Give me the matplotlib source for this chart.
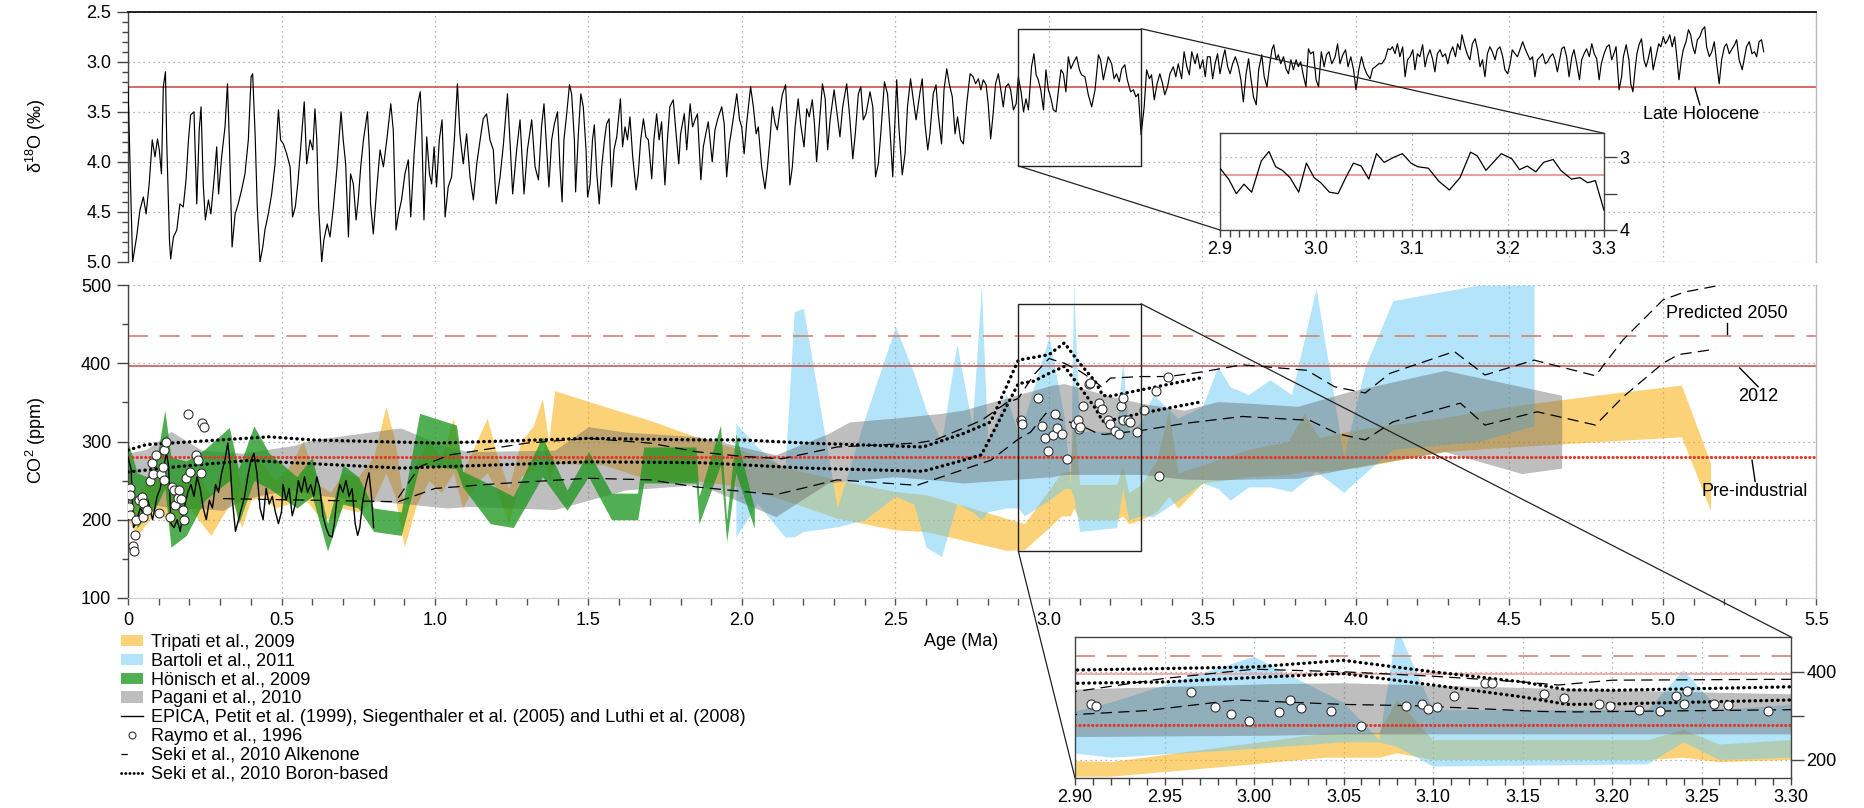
import matplotlib
matplotlib.use("Agg")
import matplotlib.pyplot as plt
from matplotlib.patches import Rectangle, Patch, ConnectionPatch
from matplotlib.lines import Line2D
from matplotlib.ticker import MultipleLocator, FixedLocator, FormatStrFormatter, FuncFormatter

plt.rcParams['font.family'] = ['Liberation Sans', 'DejaVu Sans']
plt.rcParams['font.size'] = 13
plt.rcParams['mathtext.default'] = 'regular'

# ---------------------------------------------------------------- data
# Benthic d18O stack (age in Ma, d18O in permil)
d18o_record = [
    (0.000, 3.25), (0.015, 5.00), (0.028, 4.75), (0.039, 4.48), (0.050, 4.35), (0.059, 4.52),
    (0.069, 4.22), (0.079, 3.78), (0.088, 3.95), (0.096, 3.77), (0.102, 3.88), (0.109, 4.12),
    (0.115, 3.25), (0.122, 3.10), (0.126, 3.78), (0.135, 4.78), (0.139, 4.97), (0.148, 4.75),
    (0.159, 4.68), (0.169, 4.42), (0.180, 4.45), (0.189, 4.18), (0.197, 3.78), (0.204, 3.53),
    (0.215, 3.50), (0.224, 4.42), (0.232, 3.68), (0.238, 3.45), (0.245, 4.22), (0.252, 4.58),
    (0.262, 4.38), (0.270, 4.52), (0.281, 4.15), (0.289, 3.85), (0.295, 4.32), (0.305, 3.95),
    (0.316, 3.65), (0.324, 3.22), (0.330, 3.78), (0.339, 4.85), (0.349, 4.52), (0.359, 4.42),
    (0.370, 4.28), (0.381, 4.12), (0.392, 3.78), (0.401, 3.15), (0.406, 3.12), (0.414, 3.72),
    (0.421, 4.45), (0.430, 5.00), (0.439, 4.85), (0.446, 4.68), (0.457, 4.52), (0.468, 4.32),
    (0.479, 4.02), (0.490, 3.48), (0.497, 3.78), (0.506, 3.82), (0.517, 3.92), (0.528, 4.05),
    (0.536, 4.55), (0.545, 4.45), (0.553, 4.22), (0.562, 3.88), (0.574, 3.40), (0.582, 4.02),
    (0.593, 3.78), (0.602, 3.88), (0.609, 3.47), (0.615, 3.78), (0.621, 4.45), (0.631, 5.00),
    (0.638, 4.78), (0.649, 4.62), (0.658, 4.75), (0.669, 4.45), (0.680, 4.08), (0.694, 3.50),
    (0.701, 3.78), (0.709, 4.02), (0.718, 4.75), (0.725, 4.12), (0.734, 4.22), (0.743, 4.58),
    (0.750, 4.38), (0.758, 4.05), (0.767, 3.78), (0.780, 3.50), (0.786, 3.88), (0.790, 4.42),
    (0.799, 4.72), (0.810, 4.28), (0.821, 3.88), (0.832, 4.05), (0.843, 3.78), (0.856, 3.42),
    (0.864, 3.68), (0.873, 4.68), (0.881, 4.52), (0.891, 4.38), (0.902, 4.12), (0.913, 3.98),
    (0.921, 4.55), (0.932, 3.92), (0.944, 3.42), (0.952, 3.30), (0.957, 3.68), (0.964, 4.58),
    (0.973, 3.75), (0.982, 4.12), (0.989, 4.22), (0.997, 3.85), (1.005, 4.25), (1.014, 3.78),
    (1.023, 3.58), (1.033, 4.55), (1.043, 4.25), (1.054, 4.15), (1.063, 3.78), (1.073, 3.22),
    (1.081, 3.72), (1.092, 4.02), (1.103, 3.72), (1.114, 4.15), (1.125, 4.38), (1.136, 4.02),
    (1.147, 3.78), (1.157, 3.57), (1.168, 3.52), (1.179, 3.78), (1.190, 3.88), (1.199, 4.42),
    (1.212, 4.15), (1.223, 3.82), (1.236, 3.32), (1.244, 3.78), (1.253, 4.32), (1.266, 3.88),
    (1.277, 3.58), (1.290, 4.32), (1.301, 3.88), (1.315, 3.58), (1.326, 4.05), (1.337, 4.18),
    (1.347, 3.65), (1.355, 3.42), (1.362, 3.78), (1.371, 4.25), (1.380, 3.78), (1.389, 3.62),
    (1.399, 3.50), (1.407, 4.05), (1.414, 4.40), (1.420, 3.78), (1.429, 3.52), (1.438, 3.23),
    (1.445, 3.32), (1.454, 3.78), (1.458, 4.30), (1.467, 3.72), (1.475, 3.32), (1.483, 3.45),
    (1.492, 3.88), (1.497, 4.35), (1.505, 4.22), (1.513, 3.78), (1.519, 3.63), (1.527, 4.12),
    (1.535, 4.42), (1.543, 4.05), (1.552, 3.78), (1.559, 3.62), (1.567, 3.57), (1.575, 4.25),
    (1.583, 3.88), (1.592, 3.75), (1.604, 3.37), (1.611, 3.85), (1.619, 3.65), (1.627, 3.78),
    (1.635, 3.55), (1.644, 3.95), (1.655, 4.28), (1.662, 4.12), (1.670, 3.78), (1.679, 3.57),
    (1.687, 3.75), (1.695, 3.78), (1.706, 4.17), (1.713, 3.78), (1.722, 3.52), (1.730, 3.78),
    (1.738, 3.60), (1.749, 4.23), (1.757, 3.78), (1.765, 3.45), (1.776, 3.38), (1.787, 3.78),
    (1.794, 4.02), (1.800, 3.72), (1.812, 3.52), (1.820, 3.88), (1.831, 3.42), (1.839, 3.65),
    (1.847, 3.58), (1.855, 3.52), (1.866, 4.18), (1.874, 3.85), (1.882, 3.72), (1.890, 3.60),
    (1.903, 4.00), (1.912, 3.68), (1.921, 3.57), (1.934, 3.45), (1.942, 3.62), (1.950, 4.15),
    (1.959, 3.82), (1.969, 3.62), (1.983, 3.32), (1.992, 3.58), (1.999, 3.65), (2.007, 3.92),
    (2.015, 3.62), (2.028, 3.25), (2.037, 3.45), (2.046, 3.72), (2.053, 3.65), (2.064, 4.05),
    (2.075, 4.27), (2.083, 4.05), (2.091, 3.78), (2.099, 3.45), (2.108, 3.62), (2.115, 3.68),
    (2.122, 3.52), (2.131, 3.33), (2.142, 3.23), (2.148, 3.62), (2.156, 4.23), (2.164, 4.05),
    (2.173, 3.65), (2.183, 3.37), (2.191, 3.62), (2.202, 3.85), (2.211, 3.47), (2.219, 3.55),
    (2.229, 3.38), (2.236, 3.62), (2.243, 4.00), (2.252, 3.62), (2.262, 3.22), (2.271, 3.37),
    (2.279, 3.88), (2.287, 3.58), (2.300, 3.28), (2.311, 3.55), (2.319, 3.75), (2.328, 3.45),
    (2.341, 3.22), (2.350, 3.52), (2.361, 3.97), (2.369, 3.72), (2.379, 3.32), (2.387, 3.25),
    (2.395, 3.58), (2.404, 3.52), (2.417, 3.30), (2.426, 3.45), (2.435, 4.15), (2.444, 4.02),
    (2.452, 3.72), (2.464, 3.20), (2.474, 3.32), (2.482, 3.68), (2.491, 4.15), (2.496, 3.75),
    (2.504, 3.18), (2.511, 3.65), (2.522, 4.13), (2.531, 3.92), (2.539, 3.45), (2.549, 3.17),
    (2.558, 3.38), (2.567, 3.58), (2.580, 3.30), (2.587, 3.17), (2.596, 3.62), (2.605, 3.88),
    (2.612, 3.72), (2.623, 3.32), (2.632, 3.23), (2.639, 3.52), (2.650, 3.82), (2.658, 3.28),
    (2.667, 3.07), (2.675, 3.22), (2.685, 3.35), (2.694, 3.72), (2.702, 3.55), (2.712, 3.78),
    (2.721, 3.82), (2.732, 3.42), (2.743, 3.12), (2.753, 3.15), (2.761, 3.22), (2.770, 3.17),
    (2.778, 3.28), (2.786, 3.18), (2.795, 3.23), (2.802, 3.42), (2.810, 3.77), (2.818, 3.52),
    (2.826, 3.22), (2.835, 3.12), (2.843, 3.28), (2.851, 3.45), (2.859, 3.25), (2.868, 3.22),
    (2.875, 3.28), (2.884, 3.48), (2.893, 3.42), (2.900, 3.15), (2.909, 3.30), (2.917, 3.50),
    (2.925, 3.37), (2.933, 3.48), (2.943, 3.05), (2.951, 2.92), (2.958, 3.13), (2.965, 3.18),
    (2.973, 3.28), (2.982, 3.48), (2.990, 3.08), (2.998, 3.28), (3.005, 3.35), (3.014, 3.48),
    (3.023, 3.50), (3.031, 3.28), (3.039, 3.08), (3.047, 3.12), (3.055, 3.30), (3.063, 2.95),
    (3.071, 3.07), (3.081, 3.00), (3.090, 2.95), (3.099, 3.08), (3.106, 3.13), (3.117, 3.15),
    (3.128, 3.33), (3.139, 3.45), (3.150, 3.28), (3.161, 2.93), (3.168, 2.98), (3.177, 3.18),
    (3.186, 3.05), (3.193, 2.95), (3.204, 3.02), (3.212, 3.17), (3.220, 3.12), (3.229, 3.20),
    (3.237, 3.07), (3.247, 3.03), (3.255, 3.18), (3.266, 3.30), (3.275, 3.28), (3.283, 3.35),
    (3.291, 3.32), (3.300, 3.73), (3.310, 3.45), (3.318, 3.08), (3.327, 3.17), (3.334, 3.13),
    (3.343, 3.38), (3.352, 3.22), (3.361, 3.12), (3.370, 3.22), (3.377, 3.33), (3.386, 3.25),
    (3.394, 3.12), (3.405, 3.05), (3.413, 3.15), (3.421, 3.02), (3.432, 3.17), (3.440, 2.90),
    (3.449, 3.05), (3.457, 3.13), (3.465, 2.90), (3.476, 3.02), (3.483, 2.92), (3.492, 3.07),
    (3.501, 2.98), (3.509, 3.15), (3.516, 2.95), (3.525, 2.95), (3.533, 3.17), (3.541, 3.02),
    (3.549, 2.92), (3.557, 3.12), (3.566, 2.97), (3.573, 2.88), (3.582, 3.05), (3.590, 3.12),
    (3.598, 3.02), (3.607, 2.95), (3.617, 3.05), (3.625, 3.18), (3.633, 3.40), (3.642, 3.12),
    (3.650, 2.97), (3.657, 3.15), (3.666, 3.35), (3.675, 3.43), (3.683, 3.08), (3.693, 2.93),
    (3.701, 3.15), (3.710, 3.25), (3.718, 3.05), (3.726, 2.88), (3.732, 2.83), (3.740, 2.98),
    (3.747, 2.93), (3.755, 3.02), (3.764, 2.95), (3.772, 3.07), (3.780, 3.12), (3.788, 2.98),
    (3.796, 3.08), (3.805, 2.98), (3.812, 3.05), (3.820, 3.00), (3.828, 3.13), (3.837, 3.25),
    (3.845, 2.87), (3.852, 2.92), (3.861, 2.90), (3.870, 3.18), (3.878, 3.25), (3.887, 2.90),
    (3.896, 3.05), (3.904, 2.93), (3.912, 2.90), (3.921, 3.02), (3.932, 2.95), (3.940, 2.82),
    (3.948, 3.02), (3.957, 2.93), (3.966, 2.88), (3.974, 3.05), (3.983, 2.95), (3.992, 3.08),
    (4.000, 3.28), (4.009, 3.08), (4.018, 2.95), (4.026, 3.05), (4.035, 3.12), (4.046, 3.17),
    (4.054, 3.07), (4.063, 3.05), (4.074, 3.02), (4.084, 3.02), (4.095, 2.97), (4.104, 2.87),
    (4.111, 2.88), (4.119, 2.85), (4.127, 2.92), (4.135, 2.82), (4.143, 2.95), (4.152, 2.85),
    (4.160, 3.15), (4.168, 2.98), (4.176, 2.95), (4.185, 2.88), (4.192, 3.08), (4.200, 2.92),
    (4.208, 2.95), (4.217, 2.83), (4.225, 3.05), (4.232, 2.95), (4.241, 2.88), (4.250, 2.98),
    (4.257, 3.10), (4.265, 2.92), (4.274, 2.88), (4.282, 2.95), (4.291, 2.92), (4.299, 3.02),
    (4.306, 2.92), (4.315, 2.85), (4.324, 2.95), (4.331, 2.82), (4.339, 2.88), (4.345, 2.73),
    (4.355, 2.85), (4.363, 2.93), (4.371, 2.98), (4.379, 2.82), (4.388, 2.77), (4.396, 2.88),
    (4.404, 3.05), (4.412, 2.98), (4.420, 3.15), (4.428, 2.92), (4.436, 2.85), (4.444, 2.90),
    (4.453, 2.98), (4.460, 2.88), (4.469, 2.85), (4.478, 2.95), (4.485, 3.08), (4.494, 3.12),
    (4.502, 3.02), (4.509, 2.88), (4.518, 2.92), (4.526, 2.95), (4.534, 2.88), (4.543, 2.80),
    (4.551, 2.87), (4.558, 2.92), (4.567, 2.98), (4.575, 2.95), (4.583, 3.15), (4.591, 2.98),
    (4.600, 2.95), (4.608, 2.92), (4.617, 3.02), (4.624, 3.00), (4.632, 2.95), (4.641, 2.92),
    (4.648, 2.98), (4.656, 3.10), (4.665, 2.95), (4.670, 2.87), (4.678, 2.85), (4.686, 2.95),
    (4.694, 3.15), (4.703, 2.95), (4.710, 2.88), (4.719, 3.02), (4.728, 3.18), (4.735, 2.98),
    (4.743, 2.92), (4.751, 2.87), (4.760, 2.95), (4.768, 2.82), (4.776, 2.92), (4.784, 2.97),
    (4.792, 3.18), (4.799, 3.02), (4.808, 2.92), (4.817, 2.85), (4.825, 2.83), (4.833, 2.98),
    (4.840, 2.92), (4.847, 2.85), (4.857, 3.28), (4.865, 3.15), (4.871, 2.95), (4.880, 2.83),
    (4.889, 2.98), (4.895, 3.22), (4.902, 3.30), (4.909, 3.08), (4.915, 2.92), (4.922, 2.83),
    (4.930, 2.77), (4.938, 2.98), (4.945, 3.05), (4.952, 2.97), (4.960, 2.85), (4.968, 3.08),
    (4.977, 2.95), (4.986, 2.82), (4.993, 2.85), (5.001, 2.75), (5.008, 2.82), (5.016, 2.78),
    (5.022, 2.73), (5.030, 2.85), (5.038, 2.75), (5.044, 2.92), (5.052, 3.18), (5.060, 2.98),
    (5.066, 2.88), (5.075, 2.80), (5.083, 2.68), (5.090, 2.73), (5.097, 2.85), (5.104, 2.92),
    (5.112, 2.78), (5.120, 2.75), (5.128, 2.68), (5.136, 2.65), (5.142, 2.85), (5.151, 2.95),
    (5.159, 2.90), (5.167, 2.80), (5.175, 3.02), (5.183, 3.22), (5.191, 2.98), (5.200, 2.85),
    (5.207, 2.82), (5.216, 2.92), (5.225, 2.87), (5.233, 2.83), (5.240, 2.78), (5.248, 2.98),
    (5.258, 3.08), (5.266, 2.95), (5.272, 2.85), (5.281, 2.80), (5.290, 2.92), (5.298, 2.90),
    (5.305, 2.95), (5.313, 2.80), (5.321, 2.78), (5.328, 2.90),
]
late_holocene_d18o = 3.25

# CO2 reconstructions (age in Ma, CO2 in ppm); bands given as lower / upper bounds
tripati_age = [0.00, 0.03, 0.06, 0.10, 0.14, 0.17, 0.20, 0.24, 0.27, 0.30,
               0.34, 0.37, 0.40, 0.44, 0.48, 0.52, 0.57, 0.62, 0.66, 0.70,
               0.75, 0.80, 0.84, 0.87, 0.90, 0.94, 0.98, 1.02, 1.06, 1.09,
               1.13, 1.17, 1.20, 1.24, 1.28, 1.32, 1.35, 1.37, 1.39, 1.55,
               1.70, 1.85, 2.00, 2.17, 2.31, 2.50, 2.60, 2.86, 2.92, 3.00,
               3.04, 3.07, 3.08, 3.10, 3.22, 3.24, 3.26, 3.30, 3.35, 3.39,
               3.42, 3.50, 3.65, 3.78, 3.83, 3.88, 4.00, 4.28, 4.50, 4.80,
               5.06, 5.155]
tripati_lo = [200, 180, 195, 215, 190, 200, 215, 195, 180, 200,
              225, 190, 225, 230, 215, 220, 230, 205, 200, 215,
              210, 225, 260, 230, 165, 220, 250, 235, 260, 215,
              245, 260, 240, 195, 255, 265, 300, 250, 272, 270,
              251, 250, 242, 221, 202, 187, 185, 161, 162, 190,
              205, 205, 215, 200, 200, 205, 195, 200, 210, 230,
              215, 247, 255, 258, 262, 262, 266, 287, 293, 300,
              306, 212]
tripati_hi = [260, 230, 250, 270, 240, 250, 275, 250, 230, 260,
              290, 240, 280, 270, 250, 265, 300, 245, 235, 260,
              255, 280, 345, 300, 215, 275, 300, 280, 330, 260,
              295, 330, 285, 240, 300, 320, 355, 300, 365, 345,
              327, 306, 289, 264, 251, 236, 232, 202, 195, 238,
              260, 262, 336, 245, 245, 268, 235, 245, 275, 340,
              260, 270, 290, 300, 336, 305, 315, 330, 345, 360,
              372, 272]

bartoli_age = [1.98, 2.05, 2.14, 2.17, 2.20, 2.31, 2.40, 2.50, 2.56, 2.60,
               2.65, 2.70, 2.75, 2.78, 2.80, 2.86, 2.90, 2.92, 3.00, 3.05,
               3.07, 3.08, 3.10, 3.22, 3.24, 3.26, 3.30, 3.34, 3.42, 3.50,
               3.55, 3.59, 3.65, 3.72, 3.79, 3.87, 3.96, 4.03, 4.12, 4.40,
               4.58]
bartoli_lo = [178, 221, 178, 178, 185, 191, 200, 230, 220, 165,
              153, 221, 210, 200, 210, 215, 215, 205, 225, 240,
              240, 230, 185, 190, 240, 200, 205, 204, 225, 247,
              240, 225, 242, 242, 236, 262, 235, 260, 290, 300,
              320]
bartoli_hi = [323, 293, 264, 466, 470, 215, 330, 447, 387, 340,
              300, 425, 320, 500, 300, 360, 310, 330, 434, 330,
              245, 500, 313, 313, 404, 313, 325, 360, 330, 345,
              396, 370, 360, 379, 360, 496, 280, 396, 480, 500,
              500]

honisch_age = [0.00, 0.03, 0.06, 0.09, 0.12, 0.14, 0.19, 0.25, 0.33, 0.36,
               0.41, 0.46, 0.55, 0.60, 0.65, 0.70, 0.75, 0.80, 0.89, 0.95,
               1.07, 1.09, 1.18, 1.255, 1.35, 1.43, 1.50, 1.575, 1.66, 1.68,
               1.85, 1.86, 1.93, 1.95, 1.98, 2.04]
honisch_lo = [230, 190, 205, 215, 240, 165, 180, 225, 250, 195,
              250, 240, 215, 230, 160, 220, 215, 185, 180, 270,
              265, 242, 195, 190, 255, 212, 255, 200, 200, 247,
              247, 195, 270, 172, 260, 189]
honisch_hi = [300, 260, 255, 270, 340, 280, 275, 290, 318, 265,
              320, 285, 255, 280, 195, 270, 255, 215, 210, 336,
              321, 262, 245, 230, 306, 238, 287, 234, 234, 293,
              293, 230, 321, 200, 310, 215]

pagani_age = [0.00, 0.06, 0.14, 0.24, 0.31, 0.37, 0.44, 0.54, 0.60, 0.88,
              0.89, 1.04, 1.11, 1.39, 1.50, 1.62, 1.86, 2.11, 2.28, 2.35,
              2.50, 2.65, 2.72, 3.01, 3.05, 3.21, 3.30, 3.44, 3.55, 3.65,
              3.81, 3.98, 4.29, 4.54, 4.67]
pagani_lo = [225, 221, 215, 214, 212, 225, 232, 238, 232, 221,
             221, 215, 217, 213, 225, 238, 245, 204, 247, 250,
             255, 250, 247, 255, 258, 258, 258, 252, 251, 252,
             253, 266, 287, 259, 266]
pagani_hi = [285, 290, 313, 289, 287, 285, 289, 295, 302, 317,
             317, 293, 287, 289, 319, 312, 306, 283, 310, 325,
             330, 336, 340, 372, 374, 357, 349, 340, 351, 349,
             345, 364, 391, 370, 359]

epica_age = [0.000, 0.010, 0.018, 0.025, 0.040, 0.055, 0.065, 0.080, 0.095, 0.105,
             0.115, 0.125, 0.132, 0.140, 0.150, 0.160, 0.170, 0.180, 0.195, 0.205,
             0.215, 0.225, 0.235, 0.245, 0.255, 0.265, 0.275, 0.285, 0.295, 0.305,
             0.315, 0.325, 0.333, 0.340, 0.350, 0.360, 0.370, 0.380, 0.390, 0.400,
             0.410, 0.420, 0.430, 0.440, 0.450, 0.460, 0.470, 0.480, 0.490, 0.500,
             0.505, 0.515, 0.525, 0.535, 0.545, 0.555, 0.565, 0.575, 0.585, 0.595,
             0.605, 0.615, 0.625, 0.635, 0.645, 0.655, 0.665, 0.672, 0.680, 0.690,
             0.700, 0.710, 0.720, 0.730, 0.740, 0.748, 0.755, 0.765, 0.775, 0.785,
             0.793, 0.800]
epica_co2 = [280, 265, 190, 195, 215, 205, 225, 200, 230, 240,
             265, 285, 270, 195, 190, 200, 185, 210, 235, 245,
             230, 255, 240, 215, 200, 225, 215, 245, 235, 260,
             275, 298, 270, 225, 185, 200, 215, 230, 255, 275,
             285, 260, 215, 200, 240, 220, 230, 210, 195, 210,
             245, 225, 240, 205, 220, 250, 235, 255, 235, 245,
             230, 255, 240, 205, 190, 180, 178, 195, 225, 245,
             235, 250, 230, 240, 195, 180, 190, 225, 245, 260,
             230, 190]

raymo_age = [0.002, 0.005, 0.005, 0.005, 0.015, 0.020, 0.024, 0.027, 0.037, 0.046,
             0.048, 0.050, 0.063, 0.072, 0.077, 0.083, 0.092, 0.102, 0.107, 0.113,
             0.118, 0.118, 0.124, 0.136, 0.143, 0.150, 0.154, 0.162, 0.165, 0.172,
             0.179, 0.184, 0.188, 0.194, 0.201, 0.220, 0.227, 0.238, 0.242, 0.246,
             2.909, 2.912, 2.965, 2.978, 2.987, 2.997, 3.014, 3.020, 3.026, 3.043,
             3.060, 3.085, 3.094, 3.097, 3.102, 3.112, 3.129, 3.133, 3.162, 3.173,
             3.193, 3.199, 3.215, 3.227, 3.236, 3.240, 3.242, 3.257, 3.265, 3.287,
             3.309, 3.348, 3.358, 3.387]
raymo_co2 = [216, 240, 232, 206, 166, 160, 180, 200, 225, 229,
             222, 203, 213, 249, 273, 259, 283, 209, 259, 268,
             289, 251, 299, 204, 242, 238, 219, 228, 238, 226,
             212, 200, 253, 335, 261, 283, 276, 260, 324, 318,
             328, 323, 355, 320, 305, 288, 308, 335, 317, 310,
             277, 323, 327, 316, 319, 345, 374, 375, 349, 341,
             327, 322, 314, 310, 346, 327, 356, 328, 325, 312,
             340, 364, 256, 382]

seki_alk_hi_age = [0.88, 0.95, 1.05, 1.30, 1.50, 1.70, 1.85, 2.00, 2.13, 2.31,
                   2.57, 2.63, 2.78, 2.86, 2.90, 2.95, 3.00, 3.05, 3.10, 3.15,
                   3.17, 3.20, 3.30, 3.39, 3.50, 3.63, 3.84, 3.93, 4.03, 4.11,
                   4.32, 4.42, 4.58, 4.78, 4.87, 5.00, 5.07, 5.19]
seki_alk_hi = [228, 268, 283, 298, 304, 298, 287, 281, 278, 293,
               298, 302, 327, 349, 355, 385, 406, 400, 390, 377,
               370, 381, 383, 383, 389, 398, 391, 370, 362, 387,
               415, 385, 404, 384, 430, 481, 491, 500]
seki_alk_lo_age = [0.31, 0.88, 1.00, 1.20, 1.50, 1.70, 1.85, 2.11, 2.31, 2.57,
                   2.81, 2.90, 2.94, 2.99, 3.05, 3.09, 3.16, 3.18, 3.30, 3.44,
                   3.63, 3.85, 3.94, 4.03, 4.12, 4.34, 4.42, 4.59, 4.78, 4.87,
                   5.00, 5.05, 5.17]
seki_alk_lo = [227, 223, 240, 246, 253, 251, 242, 232, 251, 244,
               276, 303, 312, 336, 326, 323, 310, 309, 314, 323,
               332, 327, 310, 302, 325, 349, 321, 338, 321, 357,
               400, 411, 418]

seki_boron_hi_age = [0.00, 0.06, 0.46, 0.60, 1.01, 1.50, 1.86, 2.00, 2.21, 2.59,
                     2.72, 2.81, 2.90, 3.00, 3.05, 3.10, 3.15, 3.175, 3.20, 3.30, 3.49]
seki_boron_hi = [289, 296, 306, 302, 298, 304, 302, 302, 298, 293,
                 310, 325, 404, 411, 426, 400, 377, 359, 358, 366, 381]
seki_boron_lo_age = [0.00, 0.165, 0.40, 0.48, 0.89, 1.04, 1.50, 1.86, 2.21, 2.59,
                     2.72, 2.78, 2.90, 2.95, 3.00, 3.05, 3.10, 3.15, 3.175, 3.20, 3.30, 3.50]
seki_boron_lo = [261, 268, 276, 274, 266, 268, 274, 273, 266, 262,
                 276, 283, 374, 377, 387, 396, 370, 343, 326, 327, 336, 351]

co2_predicted_2050 = 435
co2_2012 = 396
co2_preindustrial = 280

legend_labels = ["Tripati et al., 2009", "Bartoli et al., 2011", "Hönisch et al., 2009",
                 "Pagani et al., 2010",
                 "EPICA, Petit et al. (1999), Siegenthaler et al. (2005) and Luthi et al. (2008)",
                 "Raymo et al., 1996", "Seki et al., 2010 Alkenone", "Seki et al., 2010 Boron-based"]

# ---------------------------------------------------------------- styling
ORANGE, A_OR = '#FAAA00', 0.53
BLUE, A_BL = '#64C8F5', 0.49
GREEN, A_GR = '#1E961E', 0.77
GRAY, A_GY = '#646464', 0.42
GRID = dict(ls=(0, (1, 3)), color='#9a9a9a', lw=0.9)
DOTS = (0, (0.1, 1.6))

W, H = 1865, 808
fig = plt.figure(figsize=(W / 100, H / 100), dpi=100)
fig.patch.set_facecolor('white')


def add_axes_px(x0, y0, x1, y1):
    return fig.add_axes([x0 / W, 1 - y1 / H, (x1 - x0) / W, (y1 - y0) / H])


ax1 = add_axes_px(128, 11.7, 1816.5, 262)
ax2 = add_axes_px(128, 285, 1816.5, 598)
in1 = add_axes_px(1220, 133.3, 1604, 230)
in2 = add_axes_px(1075, 637, 1791, 778)
in1.set_zorder(3)
in2.set_zorder(3)

d18o_age = [p[0] for p in d18o_record]
d18o_val = [p[1] for p in d18o_record]


def set_spines(ax, spec):
    for side in ['top', 'left', 'right', 'bottom']:
        s = spec.get(side)
        if s is None:
            ax.spines[side].set_visible(False)
        else:
            ax.spines[side].set_color(s[0])
            ax.spines[side].set_linewidth(s[1])


def draw_co2(ax, inset=False):
    ax.fill_between(tripati_age, tripati_lo, tripati_hi, color=ORANGE, alpha=A_OR, lw=0, zorder=1)
    ax.fill_between(bartoli_age, bartoli_lo, bartoli_hi, color=BLUE, alpha=A_BL, lw=0, zorder=1.1)
    ax.fill_between(pagani_age, pagani_lo, pagani_hi, color=GRAY, alpha=A_GY, lw=0, zorder=1.2)
    ax.fill_between(honisch_age, honisch_lo, honisch_hi, color=GREEN, alpha=A_GR, lw=0, zorder=1.3)
    c50 = '#D08878' if inset else '#D4826E'
    c12 = '#F0A8A8' if inset else '#C0504D'
    ax.axhline(co2_predicted_2050, color=c50, lw=1.2, ls=(0, (12, 7)), zorder=2)
    ax.axhline(co2_2012, color=c12, lw=1.3 if inset else 1.1, zorder=2)
    ax.axhline(co2_preindustrial, color='#E0392A', lw=2.2, ls=(0, (0.1, 1.3)),
               dash_capstyle='round', zorder=2)
    ax.plot(epica_age, epica_co2, color='black', lw=1.0, zorder=3)
    ax.plot(seki_alk_hi_age, seki_alk_hi, color='black', lw=0.9, ls=(0, (9, 5)), zorder=3)
    ax.plot(seki_alk_lo_age, seki_alk_lo, color='black', lw=0.9, ls=(0, (9, 5)), zorder=3)
    ax.plot(seki_boron_hi_age, seki_boron_hi, color='black', lw=2.4, ls=DOTS,
            dash_capstyle='round', zorder=3)
    ax.plot(seki_boron_lo_age, seki_boron_lo, color='black', lw=2.4, ls=DOTS,
            dash_capstyle='round', zorder=3)
    ax.plot(raymo_age, raymo_co2, ls='none', marker='o', ms=6.5, mfc='white',
            mec='#333333', mew=0.8, zorder=4)


def age_label(v, pos):
    return '0' if abs(v) < 1e-9 else '%.1f' % v


# ---------------------------------------------------------------- d18O panel
ax1.plot(d18o_age, d18o_val, color='black', lw=0.85, zorder=3)
ax1.axhline(late_holocene_d18o, color='#C8453C', lw=1.1, zorder=2)
ax1.set_xlim(0, 5.5)
ax1.set_ylim(5.0, 2.5)
ax1.xaxis.set_major_locator(MultipleLocator(0.5))
ax1.yaxis.set_major_locator(MultipleLocator(0.5))
ax1.yaxis.set_minor_locator(MultipleLocator(0.1))
ax1.yaxis.set_major_formatter(FormatStrFormatter('%.1f'))
ax1.tick_params(axis='x', which='both', length=0, labelbottom=False)
ax1.tick_params(axis='y', which='major', length=8, width=1, color='#444444', pad=4)
ax1.tick_params(axis='y', which='minor', length=4, width=1, color='#444444')
ax1.grid(True, which='major', **GRID)
ax1.set_axisbelow(True)
set_spines(ax1, {'top': ('#111111', 1.3), 'left': ('#444444', 1.0), 'right': ('#bbbbbb', 1.0)})
ax1.add_patch(Rectangle((2.9, 2.67), 0.4, 1.37, fill=False, ec='#222222', lw=1.0, zorder=5))
ax1.plot([5.104, 5.12], [3.262, 3.43], color='black', lw=1.0)
ax1.text(5.125, 3.53, "Late Holocene", ha='center', va='center', fontsize=13)

# inset of the d18O record
in1.plot(d18o_age, d18o_val, color='black', lw=0.9, zorder=3)
in1.axhline(late_holocene_d18o, color='#E8A0A0', lw=1.5, zorder=2)
in1.set_xlim(2.9, 3.3)
in1.set_ylim(4.0, 2.67)
in1.xaxis.set_major_locator(MultipleLocator(0.1))
in1.xaxis.set_minor_locator(MultipleLocator(0.01))
in1.xaxis.set_major_formatter(FormatStrFormatter('%.1f'))
in1.yaxis.tick_right()
in1.yaxis.set_major_locator(FixedLocator([3, 4]))
in1.yaxis.set_minor_locator(FixedLocator([3.5]))
in1.yaxis.set_major_formatter(FormatStrFormatter('%d'))
in1.tick_params(axis='y', which='both', length=9, width=1, color='#444444', pad=2)
in1.tick_params(axis='x', which='both', length=5, width=1, color='#444444', pad=3)
in1.grid(True, which='major', **GRID)
in1.set_axisbelow(True)
set_spines(in1, {s: ('#444444', 1.0) for s in ['top', 'left', 'right', 'bottom']})

# ---------------------------------------------------------------- CO2 panel
draw_co2(ax2)
ax2.set_xlim(0, 5.5)
ax2.set_ylim(100, 500)
ax2.xaxis.set_major_locator(MultipleLocator(0.5))
ax2.xaxis.set_minor_locator(MultipleLocator(0.1))
ax2.xaxis.set_major_formatter(FuncFormatter(age_label))
ax2.yaxis.set_major_locator(MultipleLocator(100))
ax2.yaxis.set_minor_locator(MultipleLocator(50))
ax2.tick_params(axis='x', which='both', length=5, width=1, color='#555555', pad=5)
ax2.tick_params(axis='y', which='major', length=8, width=1, color='#444444', pad=4)
ax2.tick_params(axis='y', which='minor', length=4, width=1, color='#444444')
ax2.grid(True, which='major', **GRID)
ax2.set_axisbelow(True)
set_spines(ax2, {'left': ('#444444', 1.0), 'right': ('#bbbbbb', 1.0), 'bottom': ('#cccccc', 0.8)})
ax2.add_patch(Rectangle((2.9, 160), 0.4, 316, fill=False, ec='#222222', lw=1.0, zorder=5))

ax2.text(5.208, 464, "Predicted 2050", ha='center', va='center', fontsize=13)
ax2.plot([5.208, 5.208], [451, 437], color='black', lw=1.0)
ax2.text(5.31, 357, "2012", ha='center', va='center', fontsize=13)
ax2.plot([5.25, 5.31], [394, 370], color='black', lw=1.0)
ax2.text(5.30, 236, "Pre-industrial", ha='center', va='center', fontsize=13)
ax2.plot([5.29, 5.30], [276, 249], color='black', lw=1.0)

# inset of the CO2 panel
draw_co2(in2, inset=True)
in2.set_xlim(2.9, 3.3)
in2.set_ylim(159, 479)
in2.xaxis.set_major_locator(MultipleLocator(0.05))
in2.xaxis.set_minor_locator(MultipleLocator(0.01))
in2.xaxis.set_major_formatter(FormatStrFormatter('%.2f'))
in2.yaxis.tick_right()
in2.yaxis.set_major_locator(FixedLocator([200, 400]))
in2.yaxis.set_minor_locator(FixedLocator([300]))
in2.tick_params(axis='y', which='both', length=9, width=1, color='#444444', pad=2)
in2.tick_params(axis='x', which='both', length=5, width=1, color='#444444', pad=3)
in2.grid(True, which='major', **GRID)
in2.set_axisbelow(True)
set_spines(in2, {s: ('#444444', 1.0) for s in ['top', 'left', 'right', 'bottom']})

# lines joining the zoom boxes to their insets
for xyA, xyB, axA, axB in [((3.3, 2.67), (1, 1), ax1, in1), ((2.9, 4.04), (0, 0), ax1, in1),
                           ((3.3, 476), (1, 1), ax2, in2), ((2.9, 160), (0, 0), ax2, in2)]:
    cp = ConnectionPatch(xyA=xyA, coordsA=axA.transData, xyB=xyB, coordsB=axB.transAxes,
                         color='#222222', lw=0.9)
    fig.add_artist(cp)

# axis titles
fig.text(36 / W, 1 - 136 / H, r"$\delta^{18}$O (‰)", rotation=90, ha='center', va='center', fontsize=13)
fig.text(36 / W, 1 - 440 / H, r"CO$^{2}$ (ppm)", rotation=90, ha='center', va='center', fontsize=13)
fig.text(961 / W, 1 - 642 / H, "Age (Ma)", ha='center', va='center', fontsize=13)

# legend
handles = [
    Patch(facecolor=ORANGE, alpha=A_OR, lw=0),
    Patch(facecolor=BLUE, alpha=A_BL, lw=0),
    Patch(facecolor=GREEN, alpha=A_GR, lw=0),
    Patch(facecolor=GRAY, alpha=A_GY, lw=0),
    Line2D([], [], color='black', lw=1.0),
    Line2D([], [], ls='none', marker='o', ms=5, mfc='white', mec='#333333', mew=0.8),
    Line2D([], [], color='black', lw=0.9, ls=(2, (7, 20))),
    Line2D([], [], color='black', lw=2.0, ls=(0, (0.1, 1.4)), dash_capstyle='round'),
]
fig.legend(handles, legend_labels, loc='upper left', bbox_to_anchor=(121 / W, 1 - 634 / H),
           frameon=False, fontsize=13, handlelength=1.2, handleheight=0.6,
           handletextpad=0.45, labelspacing=0.1, borderpad=0, borderaxespad=0)

fig.savefig("out.png", dpi=100, facecolor='white')
